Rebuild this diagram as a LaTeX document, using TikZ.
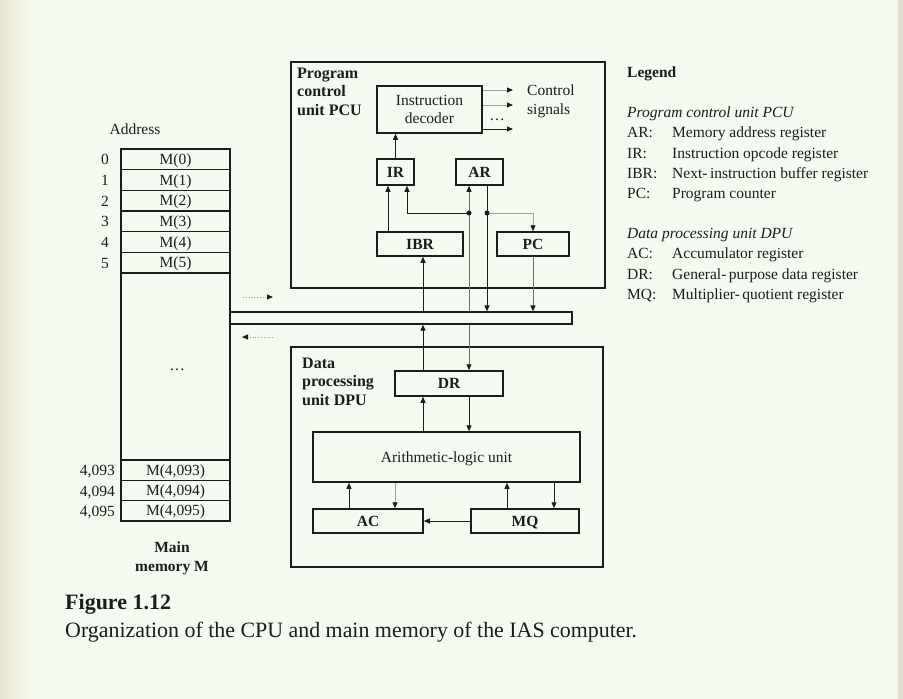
\documentclass[tikz,border=0pt]{standalone}
\usepackage{fontspec}
\setmainfont{Liberation Serif}
\usetikzlibrary{arrows.meta,calc}
\definecolor{bgc}{RGB}{244,250,240}
\definecolor{paper}{RGB}{236,230,208}
\definecolor{edgec}{RGB}{226,220,204}
\definecolor{ink}{RGB}{28,28,28}
\definecolor{wirep}{RGB}{120,100,165}
\begin{document}
\begin{tikzpicture}[x=1pt,y=-1pt,
  every node/.style={font=\fontsize{15.5}{18}\selectfont, text=ink, inner sep=0pt},
  box/.style={draw=ink, line width=1.5pt, inner sep=0pt},
  ctext/.style={text height=14pt, text depth=3.7pt},
  unitbox/.style={draw=ink, line width=1.7pt, inner sep=0pt},
  cell/.style={draw=ink, line width=1.3pt, minimum width=109pt, minimum height=20.5pt, inner sep=0pt, ctext},
  bfont/.style={font=\fontsize{15.5}{18}\selectfont\bfseries},
  lbl/.style={anchor=base west, font=\fontsize{16}{18}\selectfont\bfseries},
  arr/.style={draw=ink, line width=0.9pt, -{Triangle[length=6pt,width=5pt]}},
  arrp/.style={draw=wirep, line width=0.8pt, -{Triangle[length=6pt,width=5pt,color=ink]}},
  arrg/.style={draw=gray!75, line width=0.8pt, -{Triangle[length=6pt,width=5pt,color=ink]}},
  jdot/.style={circle, fill=ink, minimum size=5pt, inner sep=0pt}
]
% page
\fill[bgc] (0,0) rectangle (903,699);
\shade[left color=paper, right color=bgc] (0,0) rectangle (35,699);
\fill[edgec] (898,0) rectangle (903,699);
\useasboundingbox (0,0) rectangle (903,699);

% helper x positions
\coordinate (x349) at (349,0);
\coordinate (x388) at (388,0);
\coordinate (x395) at (395,0);
\coordinate (x407) at (407,0);
\coordinate (x423) at (423,0);
\coordinate (xa) at (469,0);
\coordinate (xb) at (487,0);
\coordinate (x507) at (507,0);
\coordinate (x554) at (554,0);

% ---------------- main memory
\node[anchor=base] (addr) at (135,134) {Address};
\node[box, minimum width=109pt, minimum height=372pt] (mem) at (175.5,335) {};
\foreach \i/\y in {0/159.3,1/180,2/200.7,3/221.3,4/242,5/262.7} {
  \node[cell] (m\i) at (175.5,\y) {M(\i)};
  \node[anchor=base] (a\i) at (105,\y+5.5) {\i};
}
\node[cell] (m4093) at (175.5,470.2) {M(4,093)};
\node[cell] (m4094) at (175.5,490.5) {M(4,094)};
\node[cell] (m4095) at (175.5,510.8) {M(4,095)};
\node[anchor=base east] (a4093) at (115,475.7) {4,093};
\node[anchor=base east] (a4094) at (115,496) {4,094};
\node[anchor=base east] (a4095) at (115,516.3) {4,095};
\node[anchor=base] (mdots) at (177,370) {\dots};
\node[anchor=base, bfont] (mm1) at (172,552) {Main};
\node[anchor=base, bfont] (mm2) at (172,571) {memory M};

% ---------------- bus
\node[box, line width=1.3pt, minimum width=342pt, minimum height=12pt] (bus) at (401,318) {};
\coordinate (w1) at (243,297); \coordinate (w2) at (273,297);
\draw[arrg, dotted] (w1) -- (w2);
\coordinate (r1) at (273,337); \coordinate (r2) at (242,337);
\draw[arrg, dotted] (r1) -- (r2);

% ---------------- PCU
\node[unitbox, minimum width=314pt, minimum height=226pt] (pcu) at (448,175) {};
\node[lbl] (pcu1) at (297,78) {Program};
\node[lbl] (pcu2) at (297,96.5) {control};
\node[lbl] (pcu3) at (297,115) {unit PCU};
\node[box, minimum width=105pt, minimum height=47pt, align=center] (dec) at (429.5,109.5) {Instruction\\decoder};
\node[box, bfont, ctext, minimum width=37pt, minimum height=26pt] (ir) at (395.5,172) {IR};
\node[box, bfont, ctext, minimum width=47pt, minimum height=26pt] (ar) at (479.5,172) {AR};
\node[box, bfont, ctext, minimum width=86pt, minimum height=24pt] (ibr) at (420,244) {IBR};
\node[box, bfont, ctext, minimum width=72pt, minimum height=24pt] (pc) at (533,244) {PC};

\coordinate (c1) at (513,90); \coordinate (c2) at (513,105); \coordinate (c3) at (513,129);
\draw[arrg] (dec.east |- c1) -- (c1);
\draw[arrg] (dec.east |- c2) -- (c2);
\draw[arr] (dec.east |- c3) -- (c3);
\node[anchor=base] (cdots) at (497,120) {\dots};
\node[anchor=west, align=left, font=\fontsize{15.5}{19}\selectfont] (csig) at (527,101) {Control\\signals};

\coordinate (ja) at (469,213); \coordinate (jb) at (487,213);
\draw[arr] (ir.north) -- (ir.north |- dec.south);
\draw[arr] (x388 |- ibr.north) -- (x388 |- ir.south);
\draw[arr] (ja) -| (x407 |- ir.south);
\draw[arrp] (xa |- bus.north) -- (xa |- ar.south);
\draw[arr] (xb |- ar.south) -- (xb |- bus.north);
\draw[arrg] (jb) -| (pc.north);
\draw[arrp] (pc.south) -- (pc.south |- bus.north);
\draw[arr] (x423 |- bus.north) -- (x423 |- ibr.south);
\node[jdot] (dota) at (ja) {};
\node[jdot] (dotb) at (jb) {};

% ---------------- DPU
\node[unitbox, minimum width=312pt, minimum height=220pt] (dpu) at (447,457) {};
\node[lbl] (dpu1) at (302,368) {Data};
\node[lbl] (dpu2) at (302,386.5) {processing};
\node[lbl] (dpu3) at (302,405) {unit DPU};
\node[box, bfont, ctext, minimum width=108pt, minimum height=25pt] (dr) at (449,383.5) {DR};
\node[box, ctext, minimum width=267pt, minimum height=50pt] (alu) at (446.5,457) {Arithmetic-logic unit};
\node[box, bfont, ctext, minimum width=110pt, minimum height=24pt] (ac) at (368,521) {AC};
\node[box, bfont, ctext, minimum width=108pt, minimum height=24pt] (mq) at (525,521) {MQ};

\draw[arr] (x423 |- dr.north) -- (x423 |- bus.south);
\draw[arrp] (xa |- bus.south) -- (xa |- dr.north);
\draw[arr] (x423 |- alu.north) -- (x423 |- dr.south);
\draw[arr] (xa |- dr.south) -- (xa |- alu.north);
\draw[arr] (x349 |- ac.north) -- (x349 |- alu.south);
\draw[arrg] (x395 |- alu.south) -- (x395 |- ac.north);
\draw[arr] (x507 |- mq.north) -- (x507 |- alu.south);
\draw[arr] (x554 |- alu.south) -- (x554 |- mq.north);
\draw[arr] (mq.west) -- (ac.east);

% ---------------- legend
\node[anchor=base west, bfont] (leg) at (627,77) {Legend};
\node[anchor=base west, font=\fontsize{15.5}{18}\selectfont\itshape] (legp) at (627,117) {Program control unit PCU};
\node[anchor=base west] (lar) at (627,137) {AR:};
\node[anchor=base west] (lard) at (672,137) {Memory address register};
\node[anchor=base west] (lir) at (627,158) {IR:};
\node[anchor=base west] (lird) at (672,158) {Instruction opcode register};
\node[anchor=base west] (libr) at (627,178) {IBR:};
\node[anchor=base west] (librd) at (672,178) {Next-\,instruction buffer register};
\node[anchor=base west] (lpc) at (627,198) {PC:};
\node[anchor=base west] (lpcd) at (672,198) {Program counter};
\node[anchor=base west, font=\fontsize{15.5}{18}\selectfont\itshape] (legd) at (627,238) {Data processing unit DPU};
\node[anchor=base west] (lac) at (627,258) {AC:};
\node[anchor=base west] (lacd) at (672,258) {Accumulator register};
\node[anchor=base west] (ldr) at (627,279) {DR:};
\node[anchor=base west] (ldrd) at (672,279) {General-\,purpose data register};
\node[anchor=base west] (lmq) at (627,299) {MQ:};
\node[anchor=base west] (lmqd) at (672,299) {Multiplier-\,quotient register};

% ---------------- caption
\node[anchor=base west, font=\fontsize{22}{26}\selectfont\bfseries] (fig) at (65,609) {Figure 1.12};
\node[anchor=base west, font=\fontsize{21.9}{26}\selectfont] (cap) at (65,637) {Organization of the CPU and main memory of the IAS computer.};
\end{tikzpicture}
\end{document}
